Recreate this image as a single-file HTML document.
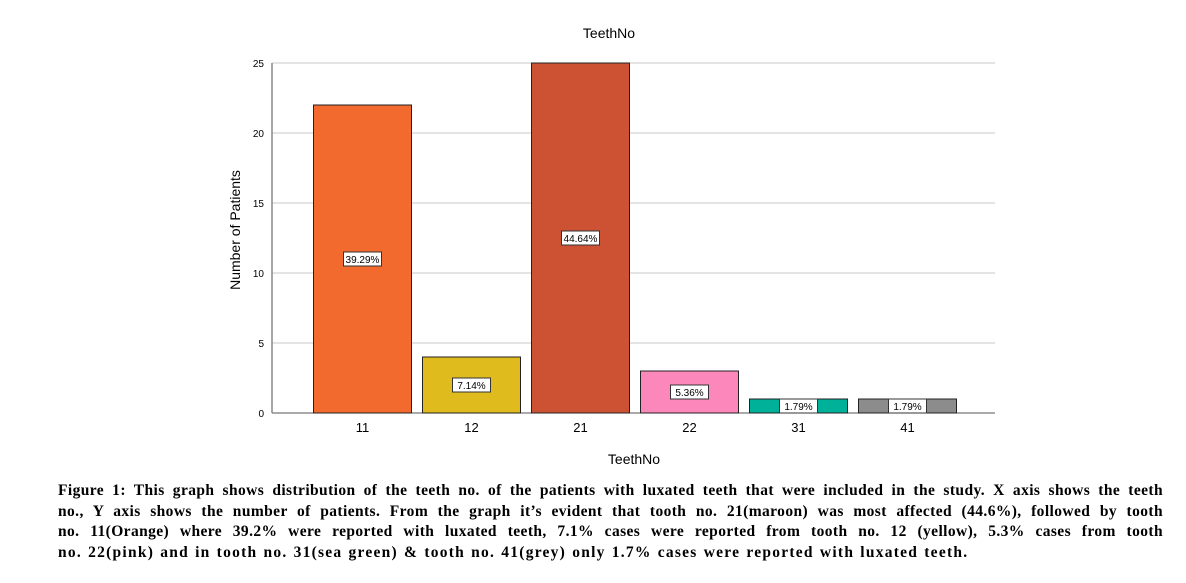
<!DOCTYPE html>
<html><head><meta charset="utf-8"><style>
body{margin:0;background:#fff;width:1186px;height:583px;overflow:hidden;position:relative}
svg{position:absolute;left:0;top:0}
.cap{position:absolute;left:58px;top:481px;width:1105px;font-family:"Liberation Serif",serif;font-weight:bold;font-size:15.5px;line-height:20.5px;color:#000}
.cap div{text-align:justify;text-align-last:justify;height:20.5px;overflow:hidden;letter-spacing:0.4px}
.cap div.last{text-align-last:left;letter-spacing:1.25px;word-spacing:1px}
</style></head><body>
<svg id="chart" width="1186" height="480"></svg>
<div class="cap">
<div>Figure 1: This graph shows distribution of the teeth no. of the patients with luxated teeth that were included in the study. X axis shows the teeth</div>
<div>no., Y axis shows the number of patients. From the graph it’s evident that tooth no. 21(maroon) was most affected (44.6%), followed by tooth</div>
<div>no. 11(Orange) where 39.2% were reported with luxated teeth, 7.1% cases were reported from tooth no. 12 (yellow), 5.3% cases from tooth</div>
<div class="last">no. 22(pink) and in tooth no. 31(sea green) &amp; tooth no. 41(grey) only 1.7% cases were reported with luxated teeth.</div>
</div>
<script>
const categories=["11","12","21","22","31","41"];
const values=[22,4,25,3,1,1];
const pctLabels=["39.29%","7.14%","44.64%","5.36%","1.79%","1.79%"];
const yTicks=[0,5,10,15,20,25];
const colors=["#f26a2e","#e0bb1e","#cd5234","#fc88bb","#00b19a","#8c8c8c"];
const NS="http://www.w3.org/2000/svg";
const svg=document.getElementById('chart');
const x0=272,x1=995,yBase=413,yTop=63,yMax=25,band=109,start=308,bw=98;
const y=v=>yBase-(v/yMax)*(yBase-yTop);
const xc=i=>start+band*i+band/2;
function mk(t,a){const e=document.createElementNS(NS,t);for(const k in a)e.setAttribute(k,a[k]);svg.appendChild(e);return e;}
yTicks.forEach(t=>{
 const g=mk('line',{x1:x0,x2:x1,y1:y(t),y2:y(t),stroke:t===0?'#555':'#c8c8c8','stroke-width':1});
 
 
 const l=mk('text',{x:x0-8,y:y(t)+4,'text-anchor':'end','font-family':'Liberation Sans,sans-serif','font-size':10});
 l.textContent=t;
 
 
});
const ax=mk('line',{x1:x0,x2:x0,y1:yTop,y2:yBase,stroke:'#888','stroke-width':1.5});


categories.forEach((c,i)=>{
 const r=mk('rect',{x:xc(i)-bw/2,y:y(values[i]),width:bw,height:yBase-y(values[i]),fill:colors[i],stroke:'#222','stroke-width':1});
 
 
 const my=(y(values[i])+yBase)/2;
 const lw=38;
 const b=mk('rect',{x:xc(i)-lw/2,y:my-7,width:lw,height:14,fill:'#fff',stroke:'#333','stroke-width':1});
 
 
 const t=mk('text',{x:xc(i),y:my+4,'text-anchor':'middle','font-family':'Liberation Sans,sans-serif','font-size':10});
 t.textContent=pctLabels[i];
 
 
 const xl=mk('text',{x:xc(i),y:432,'text-anchor':'middle','font-family':'Liberation Sans,sans-serif','font-size':13});
 xl.textContent=c;
 
 
});
const ti=mk('text',{x:609,y:38,'text-anchor':'middle','font-family':'Liberation Sans,sans-serif','font-size':14});
ti.textContent='TeethNo';


const xt=mk('text',{x:634,y:464,'text-anchor':'middle','font-family':'Liberation Sans,sans-serif','font-size':14});
xt.textContent='TeethNo';


const yt=mk('text',{x:0,y:0,'text-anchor':'middle','font-family':'Liberation Sans,sans-serif','font-size':14,transform:'translate(240,230) rotate(-90)'});
yt.textContent='Number of Patients';


</script>
</body></html>
